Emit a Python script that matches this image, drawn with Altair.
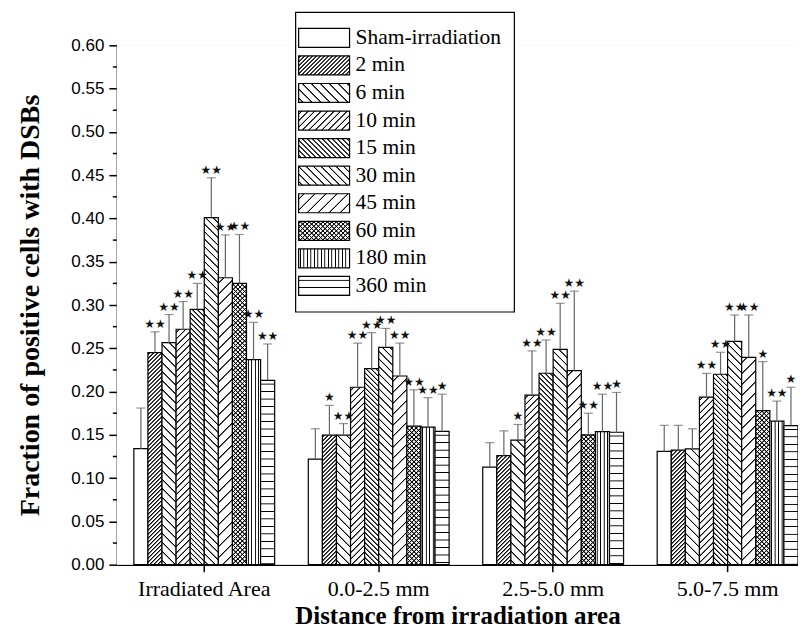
import altair as alt
import pandas as pd

# ---------------- data ----------------
groups = ["Irradiated Area", "0.0-2.5 mm", "2.5-5.0 mm", "5.0-7.5 mm"]
series = ["Sham-irradiation", "2 min", "6 min", "10 min", "15 min",
          "30 min", "45 min", "60 min", "180 min", "360 min"]

mean_irr = [0.134, 0.245, 0.2565, 0.272, 0.295, 0.401, 0.3315, 0.325, 0.237, 0.213]
upper_irr = [0.181, 0.269, 0.289, 0.304, 0.325, 0.447, 0.381, 0.3815, 0.280, 0.255]
sig_irr = ["", "★★", "★★", "★★", "★★", "★★", "★★", "★★", "★★", "★★"]

mean_0_25 = [0.122, 0.1496, 0.1496, 0.205, 0.2265, 0.251, 0.218, 0.160, 0.159, 0.154]
upper_0_25 = [0.157, 0.184, 0.163, 0.256, 0.268, 0.273, 0.256, 0.202, 0.193, 0.197]
sig_0_25 = ["", "★", "★★", "★★", "★★", "★★", "★★", "★★", "★★", "★"]

mean_25_50 = [0.1127, 0.126, 0.1438, 0.1958, 0.2212, 0.2488, 0.2242, 0.150, 0.1538, 0.153]
upper_25_50 = [0.141, 0.1546, 0.162, 0.247, 0.2596, 0.302, 0.316, 0.175, 0.197, 0.199]
sig_25_50 = ["", "", "★", "★★", "★★", "★★", "★★", "★★", "★★", "★"]

mean_50_75 = [0.1308, 0.1323, 0.1338, 0.1935, 0.220, 0.258, 0.2396, 0.178, 0.1658, 0.1607]
upper_50_75 = [0.161, 0.161, 0.157, 0.221, 0.2454, 0.2885, 0.2885, 0.2346, 0.189, 0.205]
sig_50_75 = ["", "", "", "★★", "★★", "★★", "★★", "★", "★★", "★"]

y_major = [round(i * 0.05, 2) for i in range(13)]
y_minor = [round(0.025 + i * 0.05, 3) for i in range(12)]

rows = []
for g, ms, us, ss in zip(groups,
                         [mean_irr, mean_0_25, mean_25_50, mean_50_75],
                         [upper_irr, upper_0_25, upper_25_50, upper_50_75],
                         [sig_irr, sig_0_25, sig_25_50, sig_50_75]):
    for s, m, u, sg in zip(series, ms, us, ss):
        rows.append({"group": g, "series": s, "value": m, "upper": u, "sig": sg})
df = pd.DataFrame(rows)
ldf = pd.DataFrame({"series": series})
mdf = pd.DataFrame({"value": y_minor})
one = pd.DataFrame({"k": [0]})

# ---------------- layout ----------------
W, H = 682, 520
YMAX = 0.6
PXU = H / YMAX
PI, PO = 0.1928, 0.0487
step = W / (len(groups) - PI + 2 * PO)
BW = step * (1 - PI) / len(series)
SW_W, SW_H = 51, 19

# hatch styles: kind, period (px)
patterns = {
    "2 min": ("/", 4.0),
    "6 min": ("\\", 9.0),
    "10 min": ("/", 6.5),
    "15 min": ("\\", 5.0),
    "30 min": ("\\", 7.5),
    "45 min": ("/", 11.0),
    "60 min": ("x", 4.5),
    "180 min": ("|", 3.5),
    "360 min": ("-", 7.5),
}


def make_stops(L, Q, hw, p, bg, fg):
    st = [(0.0, bg)]
    c = Q / 2
    while c - hw < L:
        for d, col in ((c - hw, bg), (c - p, fg), (c + p, fg), (c + hw, bg)):
            st.append((min(max(d / L, 0.0), 1.0), col))
        c += Q
    st.append((1.0, bg))
    return "[" + ",".join("{offset:%.5f,color:'%s'}" % (o, col) for o, col in st) + "]"


def grad(kind, L, S, w, h):
    if kind == "/":
        den = f"({w}*{w}+{h}*{h})"
        return (f"{{gradient:'linear',x1:0,y1:0,x2:{w}*{L:.2f}/{den},"
                f"y2:{h}*{L:.2f}/{den},stops:{S}}}")
    if kind == "\\":
        den = f"({w}*{w}+{h}*{h})"
        return (f"{{gradient:'linear',x1:0,y1:1,x2:{w}*{L:.2f}/{den},"
                f"y2:1-{h}*{L:.2f}/{den},stops:{S}}}")
    if kind == "|":
        return f"{{gradient:'linear',x1:0,y1:0,x2:{L:.2f}/{w},y2:0,stops:{S}}}"
    return f"{{gradient:'linear',x1:0,y1:0,x2:0,y2:{L:.2f}/{h},stops:{S}}}"


def fills(s):
    """Return list of (expr_for_bars, expr_for_legend) layers for series s."""
    kind, Q = patterns[s]
    vals = df.loc[df.series == s, "value"].tolist()
    hb = f"(datum.value*{PXU:.4f})"
    wb = f"{BW:.4f}"
    if kind in ("/", "\\", "x"):
        L = max([BW + v * PXU for v in vals] + [SW_W + SW_H]) + 2
    elif kind == "|":
        L = max(BW, SW_W) + 2
    else:
        L = max([v * PXU for v in vals] + [SW_H]) + 2
    out = []
    if kind == "x":
        S1 = make_stops(L, Q, 1.0, 0.3, "#ffffff", "#000000")
        S2 = make_stops(L, Q, 1.0, 0.3, "rgba(0,0,0,0)", "#000000")
        out.append((grad("/", L, S1, wb, hb), grad("/", L, S1, str(SW_W), str(SW_H))))
        out.append((grad("\\", L, S2, wb, hb), grad("\\", L, S2, str(SW_W), str(SW_H))))
    elif kind in ("/", "\\"):
        S = make_stops(L, Q, 1.1, 0.35, "#ffffff", "#000000")
        out.append((grad(kind, L, S, wb, hb), grad(kind, L, S, str(SW_W), str(SW_H))))
    else:
        S = make_stops(L, Q, 0.75, 0.2, "#ffffff", "#000000")
        out.append((grad(kind, L, S, wb, hb), grad(kind, L, S, str(SW_W), str(SW_H))))
    return out


# ---------------- encodings ----------------
SERIF = "Liberation Serif"
x_enc = alt.X("group:N", sort=groups,
              scale=alt.Scale(domain=groups, paddingInner=PI, paddingOuter=PO, align=1),
              axis=alt.Axis(labelAngle=0, labelFont=SERIF, labelFontSize=22, labelColor="black",
                            labelPadding=7, tickSize=7, tickColor="black", tickWidth=1.5,
                            domainColor="black", domainWidth=1.5, grid=False,
                            titleFont=SERIF, titleFontSize=25, titleFontWeight="bold",
                            titleColor="black", titlePadding=4),
              title="Distance from irradiation area")
xo_enc = alt.XOffset("series:N", sort=series,
                     scale=alt.Scale(domain=series, paddingInner=0, paddingOuter=0))

y_scale = alt.Scale(domain=[0, YMAX], nice=False, zero=True)
y_axis = alt.Axis(values=y_major, format=".2f", tickSize=8,
                  grid=False,
                  domainColor="black", domainWidth=1.5, tickColor="black",
                  tickWidth=1.5, labelFont="Liberation Sans", labelFontSize=17,
                  labelColor="black", labelPadding=5,
                  titleFont=SERIF, titleFontSize=28, titleFontWeight="bold",
                  titleColor="black", titlePadding=26)
YTITLE = "Fraction of positive cells with DSBs"


def yq(field):
    return alt.Y(f"{field}:Q", stack=None, scale=y_scale, axis=y_axis, title=YTITLE)


# plain white plot background
backdrop = alt.Chart(one).mark_rect(fill="white").encode(
    x=alt.value(0), x2=alt.value(W), y=alt.value(0), y2=alt.value(H))

base = alt.Chart(df)
bar_layers = []
for s in series:
    sub = base.transform_filter(alt.datum.series == s)
    if s not in patterns:
        bar_layers.append(sub.mark_bar(fill="white", stroke="black", strokeWidth=1.2)
                          .encode(x=x_enc, xOffset=xo_enc, y=yq("value")))
        continue
    for i, (eb, _) in enumerate(fills(s)):
        if i == 0:
            m = sub.mark_bar(fill={"expr": eb}, stroke="black", strokeWidth=1.2)
        else:
            m = sub.mark_bar(fill={"expr": eb})
        bar_layers.append(m.encode(x=x_enc, xOffset=xo_enc, y=yq("value")))

err_rule = base.mark_rule(color="#666666", strokeWidth=1.2).encode(
    x=x_enc, xOffset=xo_enc, y=yq("value"), y2="upper:Q")
err_cap = base.mark_tick(color="#666666", thickness=1.2, size=9).encode(
    x=x_enc, xOffset=xo_enc, y=yq("upper"))
stars = base.mark_text(font="DejaVu Sans", fontSize=12, baseline="bottom", dy=-1,
                       color="#111111").encode(
    x=x_enc, xOffset=xo_enc, y=yq("upper"), text="sig:N")

# minor y ticks (axis decoration)
minor_ticks = alt.Chart(mdf).mark_rule(color="black", strokeWidth=1.5).encode(
    x=alt.value(-4), x2=alt.value(0), y=yq("value"))

main = alt.layer(backdrop, *bar_layers, err_rule, err_cap, stars, minor_ticks)

# ---------------- legend (drawn as a layer inside the plot) ----------------
ly = alt.Y("series:N", sort=series,
           scale=alt.Scale(domain=series, range=[-21.3, 254.7], paddingInner=0.312,
                           paddingOuter=0.156),
           axis=None)
lbase = alt.Chart(ldf)
leg_box = alt.Chart(one).mark_rect(
    fill="white", stroke="black", strokeWidth=1.2).encode(
    x=alt.value(179), x2=alt.value(398), y=alt.value(-33), y2=alt.value(267))
leg_layers = [leg_box]
for s in series:
    sub = lbase.transform_filter(alt.datum.series == s)
    if s not in patterns:
        leg_layers.append(sub.mark_rect(fill="white", stroke="black", strokeWidth=1.2)
                          .encode(x=alt.value(182), x2=alt.value(233), y=ly))
        continue
    for i, (_, el) in enumerate(fills(s)):
        if i == 0:
            m = sub.mark_rect(fill={"expr": el}, stroke="black", strokeWidth=1.2)
        else:
            m = sub.mark_rect(fill={"expr": el})
        leg_layers.append(m.encode(x=alt.value(182), x2=alt.value(233), y=ly))
leg_text = lbase.mark_text(align="left", baseline="middle", font=SERIF, fontSize=21.5,
                           color="black").encode(x=alt.value(239), y=ly, text="series:N")
leg_layers.append(leg_text)
legend = alt.layer(*leg_layers)

chart = (alt.layer(main, legend)
         .resolve_scale(y="independent")
         .properties(width=W, height=H,
                     autosize=alt.AutoSizeParams(type="none"),
                     padding={"left": 109, "top": 37, "right": 0, "bottom": 66})
         .configure_view(stroke=None)
         .configure_axis(grid=False)
         .configure(background="white"))

chart.save("out.html", embed_options={"renderer": "svg", "actions": False})
